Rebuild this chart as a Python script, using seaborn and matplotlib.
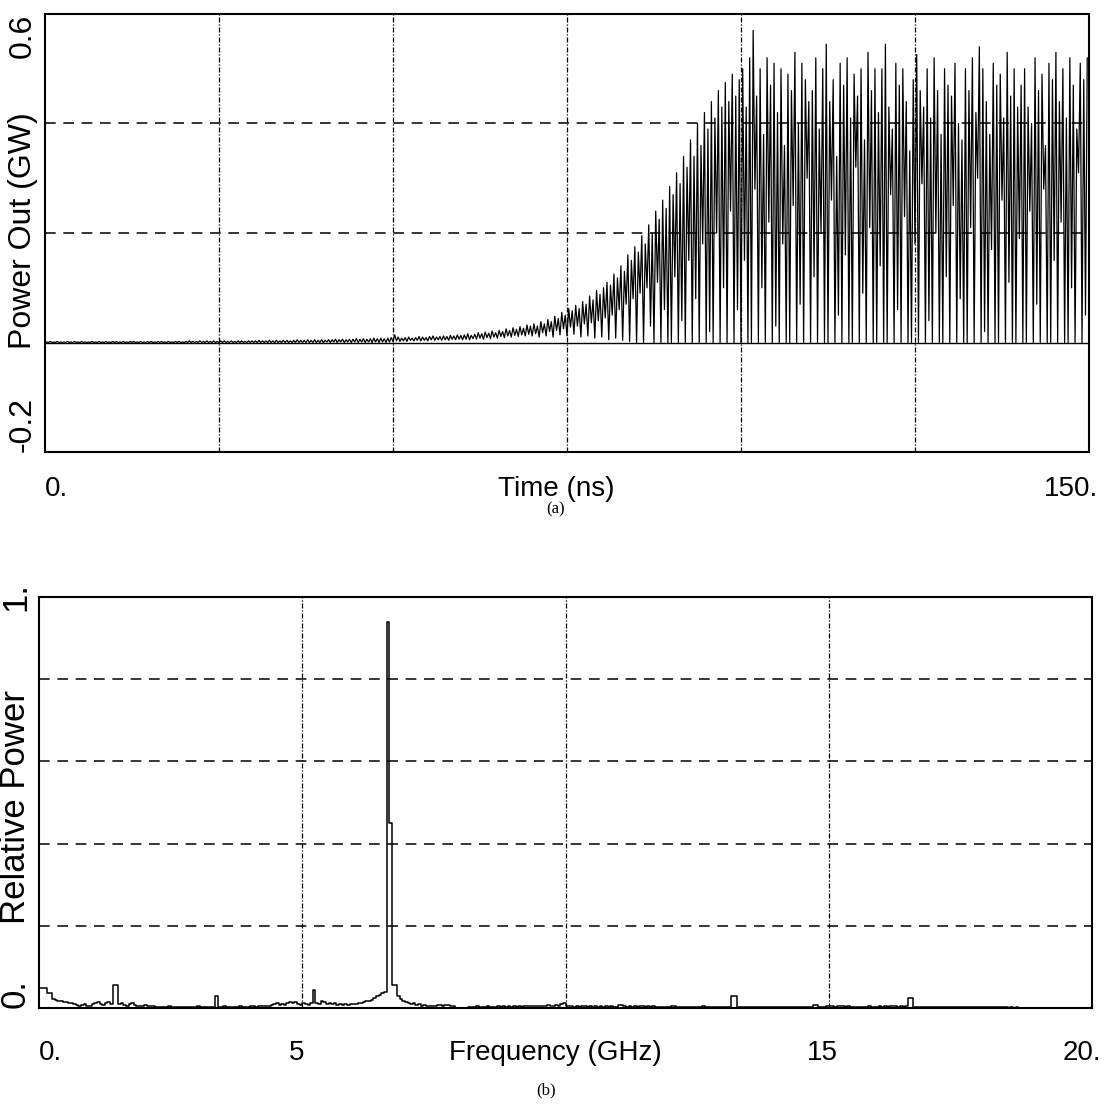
import numpy as np
import pandas as pd
import matplotlib
matplotlib.use("Agg")
import matplotlib.pyplot as plt
import matplotlib.transforms as mtransforms
import seaborn as sns

# ── Data ────────────────────────────────────────────────────────────────────
# (a) laser output: 20 pulses per 10 ns (one row per 10 ns, 0 .. 150 ns)
peak_gw = [
    0.001, 0.002, 0.001, 0.002, 0.001, 0.001, 0.002, 0.001, 0.002, 0.001, 0.002, 0.001, 0.001, 0.002, 0.001, 0.002, 0.001, 0.002, 0.001, 0.002,
    0.002, 0.001, 0.002, 0.001, 0.002, 0.002, 0.001, 0.002, 0.001, 0.002, 0.002, 0.001, 0.002, 0.002, 0.001, 0.002, 0.001, 0.002, 0.002, 0.001,
    0.002, 0.003, 0.002, 0.002, 0.003, 0.002, 0.003, 0.002, 0.003, 0.002, 0.003, 0.003, 0.002, 0.003, 0.002, 0.003, 0.003, 0.002, 0.003, 0.003,
    0.003, 0.004, 0.003, 0.003, 0.004, 0.003, 0.004, 0.003, 0.004, 0.004, 0.003, 0.004, 0.005, 0.004, 0.004, 0.005, 0.004, 0.005, 0.004, 0.005,
    0.004, 0.005, 0.005, 0.006, 0.005, 0.006, 0.005, 0.006, 0.006, 0.007, 0.006, 0.007, 0.006, 0.007, 0.008, 0.007, 0.008, 0.007, 0.008, 0.009,
    0.014, 0.010, 0.008, 0.009, 0.010, 0.008, 0.009, 0.011, 0.010, 0.009, 0.011, 0.012, 0.010, 0.011, 0.012, 0.011, 0.013, 0.012, 0.014, 0.013,
    0.014, 0.016, 0.013, 0.015, 0.018, 0.016, 0.019, 0.017, 0.021, 0.018, 0.022, 0.020, 0.025, 0.022, 0.027, 0.024, 0.029, 0.026, 0.032, 0.030,
    0.034, 0.030, 0.038, 0.034, 0.042, 0.038, 0.048, 0.044, 0.055, 0.050, 0.062, 0.058, 0.068, 0.062, 0.075, 0.070, 0.085, 0.078, 0.095, 0.088,
    0.100, 0.110, 0.105, 0.125, 0.118, 0.140, 0.130, 0.160, 0.150, 0.175, 0.165, 0.195, 0.180, 0.215, 0.200, 0.240, 0.225, 0.260, 0.245, 0.285,
    0.270, 0.310, 0.290, 0.340, 0.320, 0.370, 0.340, 0.400, 0.360, 0.420, 0.390, 0.440, 0.410, 0.460, 0.430, 0.475, 0.440, 0.490, 0.450, 0.480,
    0.500, 0.430, 0.520, 0.570, 0.450, 0.500, 0.380, 0.520, 0.470, 0.510, 0.420, 0.500, 0.360, 0.490, 0.460, 0.530, 0.400, 0.510, 0.480, 0.440,
    0.460, 0.520, 0.390, 0.500, 0.545, 0.440, 0.480, 0.340, 0.510, 0.470, 0.520, 0.410, 0.490, 0.450, 0.500, 0.370, 0.530, 0.460, 0.500, 0.420,
    0.500, 0.545, 0.430, 0.390, 0.510, 0.470, 0.500, 0.440, 0.350, 0.480, 0.526, 0.460, 0.430, 0.500, 0.410, 0.520, 0.460, 0.380, 0.500, 0.470,
    0.450, 0.510, 0.400, 0.370, 0.500, 0.460, 0.520, 0.420, 0.540, 0.500, 0.440, 0.380, 0.510, 0.470, 0.490, 0.410, 0.530, 0.450, 0.500, 0.430,
    0.470, 0.500, 0.430, 0.400, 0.520, 0.460, 0.490, 0.360, 0.510, 0.480, 0.530, 0.440, 0.500, 0.410, 0.520, 0.470, 0.390, 0.510, 0.480, 0.520,
]
trough_gw = [
    0.000, 0.000, 0.000, 0.000, 0.000, 0.000, 0.000, 0.000, 0.000, 0.000, 0.000, 0.000, 0.000, 0.000, 0.000, 0.000, 0.000, 0.000, 0.000, 0.000,
    0.000, 0.000, 0.000, 0.000, 0.000, 0.000, 0.000, 0.000, 0.000, 0.000, 0.000, 0.000, 0.000, 0.000, 0.000, 0.000, 0.000, 0.000, 0.000, 0.000,
    0.000, 0.000, 0.000, 0.000, 0.000, 0.000, 0.000, 0.000, 0.000, 0.000, 0.000, 0.000, 0.000, 0.000, 0.000, 0.000, 0.000, 0.000, 0.000, 0.000,
    0.000, 0.000, 0.000, 0.000, 0.000, 0.000, 0.000, 0.000, 0.000, 0.000, 0.000, 0.000, 0.000, 0.000, 0.000, 0.000, 0.000, 0.000, 0.000, 0.000,
    0.000, 0.001, 0.000, 0.001, 0.000, 0.001, 0.000, 0.001, 0.000, 0.001, 0.000, 0.001, 0.000, 0.001, 0.000, 0.001, 0.000, 0.001, 0.000, 0.001,
    0.002, 0.003, 0.002, 0.003, 0.002, 0.004, 0.003, 0.004, 0.003, 0.004, 0.003, 0.005, 0.004, 0.005, 0.004, 0.005, 0.004, 0.006, 0.005, 0.006,
    0.005, 0.006, 0.005, 0.007, 0.006, 0.008, 0.006, 0.009, 0.007, 0.010, 0.008, 0.011, 0.009, 0.012, 0.010, 0.013, 0.011, 0.014, 0.012, 0.015,
    0.012, 0.016, 0.010, 0.018, 0.012, 0.020, 0.010, 0.022, 0.014, 0.025, 0.012, 0.028, 0.015, 0.030, 0.010, 0.034, 0.012, 0.036, 0.008, 0.040,
    0.010, 0.045, 0.005, 0.050, 0.008, 0.060, 0.004, 0.070, 0.002, 0.080, 0.000, 0.090, 0.000, 0.100, 0.030, 0.000, 0.110, 0.000, 0.060, 0.000,
    0.000, 0.120, 0.000, 0.040, 0.000, 0.150, 0.000, 0.080, 0.000, 0.180, 0.000, 0.020, 0.000, 0.200, 0.000, 0.100, 0.000, 0.240, 0.000, 0.060,
    0.000, 0.150, 0.000, 0.000, 0.280, 0.000, 0.100, 0.000, 0.220, 0.000, 0.030, 0.000, 0.180, 0.000, 0.000, 0.250, 0.000, 0.070, 0.000, 0.300,
    0.000, 0.120, 0.000, 0.200, 0.000, 0.000, 0.260, 0.000, 0.050, 0.000, 0.160, 0.000, 0.000, 0.320, 0.000, 0.090, 0.000, 0.210, 0.000, 0.000,
    0.140, 0.000, 0.000, 0.270, 0.000, 0.060, 0.000, 0.230, 0.000, 0.000, 0.180, 0.000, 0.290, 0.000, 0.040, 0.000, 0.200, 0.000, 0.000, 0.120,
    0.000, 0.250, 0.000, 0.080, 0.000, 0.000, 0.210, 0.000, 0.300, 0.000, 0.020, 0.000, 0.170, 0.000, 0.000, 0.260, 0.000, 0.110, 0.000, 0.000,
    0.190, 0.000, 0.000, 0.240, 0.000, 0.070, 0.000, 0.280, 0.000, 0.000, 0.150, 0.000, 0.220, 0.000, 0.000, 0.100, 0.000, 0.310, 0.000, 0.050,
]

# (b) relative power spectrum, 0.05 GHz bins centred on 0.025 .. 19.975 GHz (one row per GHz)
rel_power = [
    0.048, 0.048, 0.048, 0.036, 0.036, 0.022, 0.020, 0.016, 0.016, 0.014, 0.014, 0.012, 0.012, 0.010, 0.008, 0.006, 0.008, 0.010, 0.006, 0.004,
    0.010, 0.012, 0.014, 0.010, 0.008, 0.012, 0.014, 0.010, 0.055, 0.055, 0.010, 0.012, 0.008, 0.006, 0.010, 0.012, 0.008, 0.004, 0.006, 0.004,
    0.008, 0.006, 0.004, 0.006, 0.003, 0.002, 0.003, 0.002, 0.002, 0.004, 0.002, 0.003, 0.002, 0.002, 0.003, 0.002, 0.002, 0.003, 0.002, 0.002,
    0.004, 0.002, 0.003, 0.002, 0.002, 0.003, 0.002, 0.030, 0.002, 0.003, 0.004, 0.002, 0.003, 0.002, 0.002, 0.003, 0.004, 0.002, 0.003, 0.002,
    0.004, 0.005, 0.003, 0.004, 0.006, 0.004, 0.005, 0.006, 0.008, 0.010, 0.012, 0.008, 0.010, 0.008, 0.012, 0.014, 0.012, 0.014, 0.010, 0.008,
    0.012, 0.010, 0.008, 0.012, 0.044, 0.012, 0.010, 0.016, 0.014, 0.010, 0.012, 0.010, 0.012, 0.008, 0.010, 0.008, 0.010, 0.008, 0.010, 0.010,
    0.010, 0.012, 0.012, 0.014, 0.016, 0.018, 0.020, 0.024, 0.028, 0.032, 0.036, 0.040, 0.940, 0.450, 0.056, 0.056, 0.030, 0.022, 0.018, 0.014,
    0.012, 0.010, 0.012, 0.008, 0.010, 0.006, 0.008, 0.004, 0.004, 0.006, 0.004, 0.008, 0.008, 0.004, 0.008, 0.008, 0.006, 0.006, 0.001, 0.001,
    0.001, 0.001, 0.001, 0.002, 0.003, 0.002, 0.004, 0.002, 0.003, 0.002, 0.004, 0.003, 0.002, 0.003, 0.004, 0.003, 0.005, 0.003, 0.004, 0.003,
    0.004, 0.003, 0.005, 0.003, 0.004, 0.005, 0.006, 0.004, 0.005, 0.004, 0.005, 0.006, 0.004, 0.008, 0.006, 0.005, 0.008, 0.006, 0.010, 0.012,
    0.006, 0.004, 0.005, 0.003, 0.004, 0.003, 0.005, 0.004, 0.003, 0.004, 0.003, 0.005, 0.003, 0.004, 0.003, 0.004, 0.003, 0.004, 0.003, 0.003,
    0.008, 0.008, 0.004, 0.003, 0.004, 0.003, 0.004, 0.003, 0.006, 0.006, 0.003, 0.004, 0.003, 0.004, 0.003, 0.002, 0.003, 0.002, 0.003, 0.002,
    0.006, 0.006, 0.003, 0.002, 0.003, 0.002, 0.003, 0.002, 0.002, 0.003, 0.002, 0.003, 0.004, 0.002, 0.003, 0.002, 0.002, 0.003, 0.002, 0.003,
    0.003, 0.002, 0.003, 0.028, 0.028, 0.003, 0.002, 0.003, 0.002, 0.002, 0.003, 0.002, 0.002, 0.003, 0.002, 0.002, 0.003, 0.002, 0.002, 0.003,
    0.002, 0.003, 0.002, 0.002, 0.003, 0.002, 0.003, 0.002, 0.002, 0.003, 0.002, 0.003, 0.002, 0.002, 0.008, 0.008, 0.003, 0.002, 0.003, 0.004,
    0.006, 0.004, 0.003, 0.004, 0.006, 0.006, 0.003, 0.004, 0.003, 0.002, 0.003, 0.002, 0.003, 0.002, 0.003, 0.004, 0.003, 0.002, 0.003, 0.004,
    0.003, 0.004, 0.003, 0.004, 0.005, 0.004, 0.003, 0.004, 0.003, 0.004, 0.024, 0.024, 0.003, 0.002, 0.002, 0.002, 0.002, 0.002, 0.002, 0.002,
    0.002, 0.002, 0.002, 0.002, 0.002, 0.002, 0.002, 0.002, 0.002, 0.002, 0.002, 0.002, 0.002, 0.002, 0.002, 0.002, 0.002, 0.002, 0.002, 0.002,
    0.002, 0.002, 0.002, 0.002, 0.002, 0.002, 0.002, 0.002, 0.001, 0.002, 0.001, 0.002, 0.001, 0.001, 0.001, 0.001, 0.001, 0.001, 0.001, 0.001,
    0.001, 0.001, 0.001, 0.001, 0.001, 0.001, 0.001, 0.001, 0.001, 0.001, 0.001, 0.001, 0.001, 0.001, 0.001, 0.001, 0.001, 0.001, 0.001, 0.001,
]

time_ticks = [0, 73.5, 150]
time_labels = ["0.", "Time (ns)", "150."]
power_ticks = [-0.2, 0.205, 0.6]
power_labels = ["-0.2", "Power Out (GW)", "0.6"]
time_grid = [25, 50, 75, 100, 125]
power_grid = [0.2, 0.4]

freq_ticks = [0, 4.9, 9.8, 14.87, 20]
freq_labels = ["0.", "5", "Frequency (GHz)", "15", "20."]
rel_ticks = [0, 0.49, 1.0]
rel_labels = ["0.", "Relative Power", "1."]
freq_grid = [5, 10, 15]
rel_grid = [0.2, 0.4, 0.6, 0.8]

# ── Tables ──────────────────────────────────────────────────────────────────
n_pts = 2 * len(peak_gw)
t_ns = np.arange(n_pts) * (150.0 / n_pts)
p_gw = np.empty(n_pts)
p_gw[0::2] = trough_gw
p_gw[1::2] = peak_gw
trace = pd.DataFrame({"time_ns": t_ns, "power_gw": p_gw})

spec = pd.DataFrame({"freq_ghz": np.arange(len(rel_power)) * 0.05 + 0.025,
                     "rel_power": rel_power})

# ── Style ───────────────────────────────────────────────────────────────────
sns.set_style("white")
plt.rcParams["font.family"] = ["Liberation Sans", "DejaVu Sans"]
plt.rcParams["text.color"] = "black"
VGRID = dict(color="black", lw=0.9, ls=(0, (4, 1.5, 1, 1.5)), zorder=3)
HGRID = dict(color="black", lw=1.1, ls=(0, (7, 5)), zorder=3)

fig = plt.figure(figsize=(11.05, 11.09), dpi=100)
ax_t = fig.add_axes([0.0407, 0.5924, 0.9448, 0.3950])
ax_f = fig.add_axes([0.0353, 0.0911, 0.9530, 0.3706])

# ── (a) Time trace ──────────────────────────────────────────────────────────
sns.lineplot(data=trace, x="time_ns", y="power_gw", ax=ax_t, color="black",
             linewidth=0.9, estimator=None, sort=False)
ax_t.set_xlim(0, 150)
ax_t.set_ylim(-0.2, 0.6)
for v in time_grid:
    ax_t.axvline(v, **VGRID)
for h in power_grid:
    ax_t.axhline(h, **HGRID)
ax_t.axhline(0, color="black", lw=1.0, zorder=3)
ax_t.set_xticks(time_ticks, time_labels)
ax_t.set_yticks(power_ticks, power_labels)
ax_t.tick_params(axis="x", length=0, pad=17, labelsize=20, labelcolor="black")
ax_t.tick_params(axis="y", length=0, pad=5, labelsize=23, labelrotation=90,
                 labelcolor="black")

# ── (b) Spectrum ────────────────────────────────────────────────────────────
sns.lineplot(data=spec, x="freq_ghz", y="rel_power", ax=ax_f, color="black",
             linewidth=1.1, estimator=None, drawstyle="steps-mid")
ax_f.set_xlim(0, 20)
ax_f.set_ylim(0, 1)
for v in freq_grid:
    ax_f.axvline(v, **VGRID)
for h in rel_grid:
    ax_f.axhline(h, **HGRID)
ax_f.set_xticks(freq_ticks, freq_labels)
ax_f.set_yticks(rel_ticks, rel_labels)
ax_f.tick_params(axis="x", length=0, pad=23, labelsize=20, labelcolor="black")
ax_f.tick_params(axis="y", length=0, pad=5, labelsize=25, labelrotation=90,
                 labelcolor="black")

shift_right = mtransforms.ScaledTranslation(0.09, 0, fig.dpi_scale_trans)
for ax in (ax_t, ax_f):
    ax.set_xlabel("")
    ax.set_ylabel("")
    for s in ax.spines.values():
        s.set_color("black")
        s.set_linewidth(1.5)
    xl = ax.get_xticklabels()
    xl[0].set_ha("left")
    xl[-1].set_ha("right")
    xl[-1].set_transform(xl[-1].get_transform() + shift_right)
    yl = ax.get_yticklabels()
    for lab in yl:
        lab.set_va("center")
    yl[0].set_va("bottom")
ax_t.get_yticklabels()[-1].set_va("top")

fig.text(0.503, 0.5405, "(a)", ha="center", va="center", fontsize=12,
         family=["Liberation Serif", "DejaVu Serif"])
fig.text(0.494, 0.0171, "(b)", ha="center", va="center", fontsize=12,
         family=["Liberation Serif", "DejaVu Serif"])

fig.savefig("out.png", dpi=100, facecolor="white")
